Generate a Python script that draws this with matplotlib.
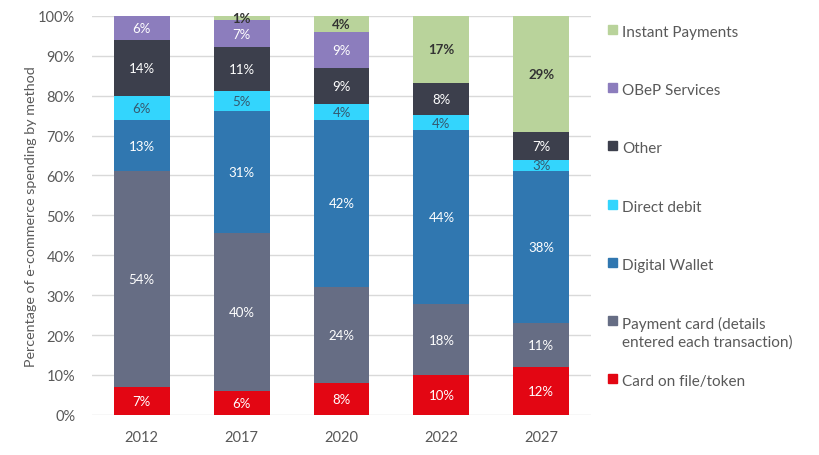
import numpy as np
import matplotlib.pyplot as plt
from matplotlib.patches import Rectangle

plt.rcParams['font.family'] = ['Lato', 'DejaVu Sans']

years = ["2012", "2017", "2020", "2022", "2027"]
methods = ["Card on file/token", "Payment card (details\nentered each transaction)",
           "Digital Wallet", "Direct debit", "Other", "OBeP Services", "Instant Payments"]

# label values (percent), bottom to top
card_on_file = [7, 6, 8, 10, 12]
payment_card = [54, 40, 24, 18, 11]
digital_wallet = [13, 31, 42, 44, 38]
direct_debit = [6, 5, 4, 4, 3]
other = [14, 11, 9, 8, 7]
obep = [6, 7, 9, 0, 0]
instant = [0, 1, 4, 17, 29]

colors = ["#e30613", "#666d84", "#3077b0", "#33d5fd", "#3c3f4c", "#8c7dbd", "#b9d39b"]
text_colors = ["white", "white", "white", "#35586e", "white", "white", "#333333"]
bold = [False, False, False, False, False, False, True]

data = np.array([card_on_file, payment_card, digital_wallet, direct_debit, other, obep, instant], dtype=float)
# bars are shares of 100%, rounding makes some columns add to 101
heights = data / data.sum(axis=0) * 100

fig = plt.figure(figsize=(8.2, 4.56), dpi=100)
ax = fig.add_axes([0.112, 0.088, 0.609, 0.875])

x = np.arange(len(years))
bottom = np.zeros(len(years))
for i in range(len(methods)):
    ax.bar(x, heights[i], 0.56, bottom=bottom, color=colors[i], zorder=2)
    for j in range(len(years)):
        if data[i, j] > 0:
            ax.text(x[j], bottom[j] + heights[i, j] / 2, f"{int(data[i, j])}%",
                    ha="center", va="center", fontsize=9.5, color=text_colors[i],
                    fontweight="bold" if bold[i] else "normal", zorder=3)
    bottom += heights[i]

ax.set_xlim(-0.5, len(years) - 0.5)
ax.set_ylim(0, 100)
ax.set_xticks(x)
ax.set_xticklabels(years)
ax.set_yticks(np.arange(0, 101, 10))
ax.set_yticklabels([f"{v}%" for v in range(0, 101, 10)])
ax.tick_params(length=0, labelsize=10.5, colors="#595959")
ax.tick_params(axis="y", pad=12)
ax.tick_params(axis="x", pad=11)
for s in ax.spines.values():
    s.set_visible(False)
ax.yaxis.grid(True, color="#d9d9d9", linewidth=1, zorder=0)
ax.set_axisbelow(True)
ax.set_ylabel("Percentage of e-commerce spending by method", fontsize=10.3,
              color="#595959", labelpad=1)

# legend, top entry first
order = list(range(len(methods)))[::-1]
for k, i in enumerate(order):
    ytop = 1 - (31 + 58.2 * k) / 456
    fig.patches.append(Rectangle((608 / 820, ytop - 4 / 456), 9 / 820, 9 / 456,
                                 transform=fig.transFigure, color=colors[i]))
    fig.text(622 / 820, ytop + 5 / 456, methods[i], ha="left", va="top",
             fontsize=11, color="#595959", linespacing=1.3)

fig.savefig("out.png", dpi=100)
